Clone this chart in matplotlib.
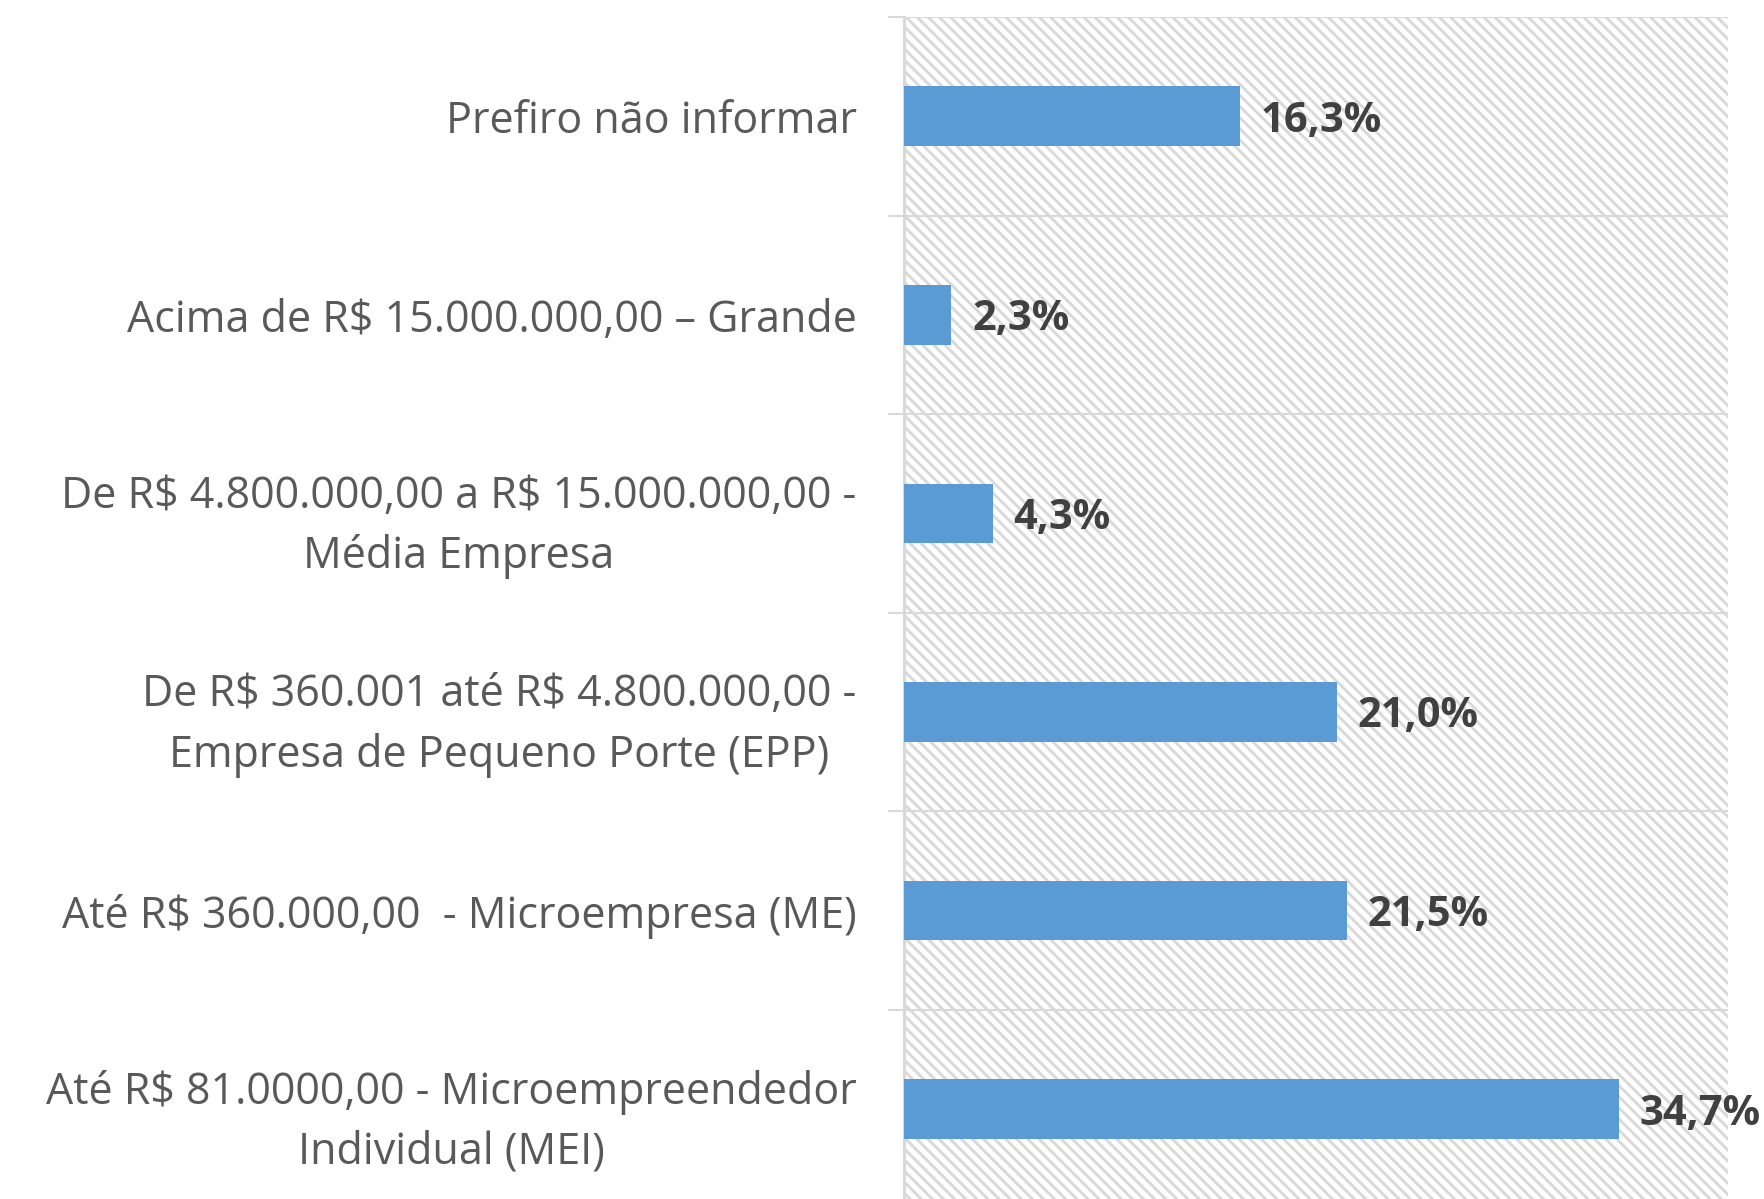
import matplotlib.pyplot as plt
import numpy as np

# categories listed bottom -> top
categorias = [
    "Até R$ 81.0000,00 - Microempreendedor\nIndividual (MEI)",
    "Até R$ 360.000,00  - Microempresa (ME)",
    "De R$ 360.001 até R$ 4.800.000,00 -\nEmpresa de Pequeno Porte (EPP)",
    "De R$ 4.800.000,00 a R$ 15.000.000,00 -\nMédia Empresa",
    "Acima de R$ 15.000.000,00 – Grande",
    "Prefiro não informar",
]
percentuais = [34.7, 21.5, 21.0, 4.3, 2.3, 16.3]
rotulos = ["34,7%", "21,5%", "21,0%", "4,3%", "2,3%", "16,3%"]

plt.rcParams['font.family'] = ['Open Sans', 'DejaVu Sans']
plt.rcParams['text.parse_math'] = False
plt.rcParams['hatch.linewidth'] = 2.1
plt.rcParams['hatch.color'] = '#d9d9d9'

fig = plt.figure(figsize=(17.65, 11.99), dpi=100)
ax = fig.add_axes([0.5122, -0.0079, 0.4668, 0.9938])

y = np.arange(len(categorias))

# hatched background
ax.add_patch(plt.Rectangle((0, 0), 1, 1, transform=ax.transAxes,
                           facecolor='white', edgecolor='#d9d9d9',
                           hatch='\\\\\\', linewidth=0, zorder=0))

ax.barh(y, percentuais, height=0.3, color='#5B9BD5', zorder=3)

for yi, v, r in zip(y, percentuais, rotulos):
    ax.text(v + 1.0, yi, r, va='center_baseline', ha='left', fontsize=30,
            fontweight='bold', color='#404040', zorder=4)

ax.set_xlim(0, 40)
ax.set_ylim(-0.5, len(categorias) - 0.5)

ax.set_yticks(y)
ax.set_yticklabels(categorias, fontsize=31, color='#595959')
for lbl in ax.get_yticklabels():
    lbl.set_multialignment('center')
    lbl.set_linespacing(1.45)
ax.tick_params(axis='y', which='major', length=0, pad=34)

ax.set_yticks(np.arange(-0.5, len(categorias), 1.0), minor=True)
ax.tick_params(axis='y', which='minor', length=11.5, width=1.5, color='#d9d9d9')
ax.grid(True, axis='y', which='minor', color='#d9d9d9', linewidth=1.5, zorder=1)
ax.set_axisbelow(True)

ax.set_xticks([])
for s in ['top', 'right', 'bottom']:
    ax.spines[s].set_visible(False)
ax.spines['left'].set_color('#d9d9d9')
ax.spines['left'].set_linewidth(2.2)
ax.spines['left'].set_zorder(2)

fig.savefig('out.png', dpi=100)
